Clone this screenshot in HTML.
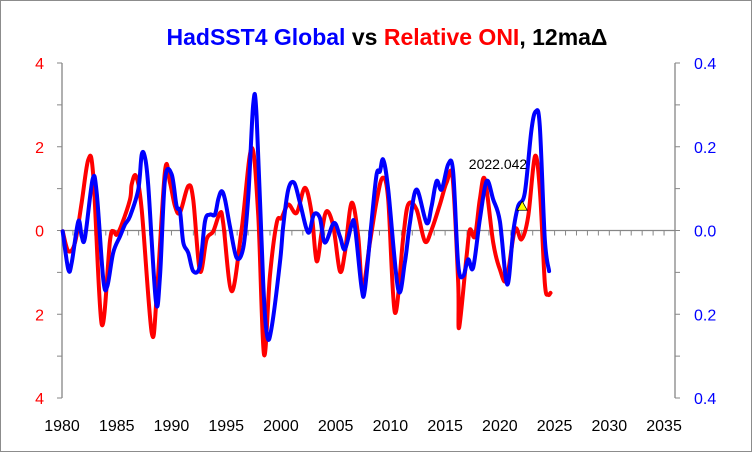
<!DOCTYPE html>
<html><head><meta charset="utf-8"><style>
body{margin:0;background:#fff}
svg{display:block;font-family:"Liberation Sans",sans-serif}
</style></head><body>
<svg id="chart" width="752" height="452">
<rect x="0.5" y="0.5" width="751" height="451" fill="#fff" stroke="#8c8c8c"/>
<text x="387" y="45" text-anchor="middle" font-size="23" font-weight="bold"><tspan fill="#0000ff">HadSST4 Global</tspan><tspan fill="#000"> vs </tspan><tspan fill="#ff0000">Relative ONI</tspan><tspan fill="#000">, 12maΔ</tspan></text>
<g id="axes"></g>
<g id="series"></g>
</svg>
<script>
const xTickYears=[1980,1985,1990,1995,2000,2005,2010,2015,2020,2025,2030,2035];
const leftTicks=[4,2,0,-2,-4];
const rightTicks=[0.4,0.2,0.0,-0.2,-0.4];
const redYears=[1980.06,1980.58,1981.19,1981.8,1982.4,1982.86,1983.63,1984.38,1984.68,1985.0,1985.45,1986.21,1986.37,1986.76,1987.28,1988.19,1988.65,1989.41,1989.86,1990.32,1990.78,1991.53,1991.99,1992.6,1993.21,1993.82,1994.43,1994.73,1995.5,1996.41,1997.32,1997.93,1998.45,1998.99,1999.61,2000.06,2000.67,2001.43,2002.19,2002.8,2003.26,2003.72,2004.17,2004.78,2005.39,2005.84,2006.46,2007.06,2007.46,2008.13,2008.74,2009.29,2009.8,2010.41,2011.17,2011.63,2012.39,2013.15,2013.76,2014.52,2015.13,2015.68,2016.19,2016.28,2016.96,2017.26,2017.72,2018.17,2018.63,2019.39,2020.0,2020.61,2021.37,2021.98,2022.59,2023.2,2023.65,2024.11,2024.41,2024.63];
const redValues=[-0.02,-0.49,-0.29,0.67,1.69,1.3,-2.24,-0.26,-0.02,-0.1,0.14,0.74,1.1,1.3,0.5,-2.44,-1.57,1.42,1.15,0.58,0.43,1.06,0.74,-0.97,-0.21,-0.02,0.42,0.18,-1.45,0.02,1.97,0.34,-2.96,-1.09,0.18,0.3,0.62,0.42,1.02,0.42,-0.73,-0.05,0.46,0.1,-0.97,-0.53,0.66,-0.14,-1.37,-0.29,0.7,1.26,0.74,-1.96,-0.17,0.62,0.5,-0.26,0.02,0.62,1.14,1.26,-1.25,-2.32,-0.61,0.02,-0.14,0.74,1.22,-0.29,-0.93,-1.17,0.02,-0.21,0.34,1.77,0.98,-1.25,-1.53,-1.49];
const blueYears=[1980.06,1980.58,1980.89,1981.49,1981.8,1982.1,1982.8,1983.17,1983.77,1984.14,1984.68,1985.3,1985.75,1986.21,1986.97,1987.28,1987.58,1987.88,1988.58,1988.95,1989.41,1990.02,1990.47,1990.78,1991.08,1991.53,1991.99,1992.6,1993.06,1993.52,1993.97,1994.27,1994.58,1994.89,1995.34,1995.95,1996.56,1997.01,1997.47,1997.78,1998.38,1998.75,1999.15,1999.91,2000.21,2000.67,2001.21,2001.74,2002.49,2003.01,2003.56,2004.02,2004.84,2005.39,2005.84,2006.46,2006.76,2007.37,2007.67,2008.28,2008.74,2009.04,2009.34,2009.8,2010.71,2011.32,2011.78,2012.39,2013.31,2013.76,2014.22,2014.68,2015.28,2015.73,2016.19,2016.65,2017.1,2017.56,2018.17,2018.79,2019.39,2020.0,2020.67,2021.21,2021.67,2022.28,2022.89,2023.29,2023.65,2024.11,2024.5];
const blueValues=[-0.002,-0.093,-0.077,0.022,-0.014,-0.017,0.122,0.09,-0.117,-0.133,-0.053,-0.014,0.014,0.034,0.098,0.181,0.174,0.106,-0.169,-0.109,0.122,0.134,0.058,0.046,-0.029,-0.053,-0.097,-0.085,0.022,0.038,0.038,0.074,0.094,0.074,0.01,-0.065,-0.041,0.078,0.301,0.273,-0.125,-0.252,-0.232,-0.077,0.01,0.098,0.114,0.066,-0.005,0.038,0.03,-0.029,0.018,-0.014,-0.045,0.014,0.01,-0.137,-0.141,0.022,0.134,0.141,0.169,0.098,-0.141,-0.077,0.018,0.098,0.018,0.058,0.118,0.098,0.158,0.141,-0.081,-0.109,-0.069,-0.089,0.026,0.118,0.074,0.022,-0.129,-0.005,0.058,0.09,0.241,0.285,0.249,-0.021,-0.097];
const markerYear=[2022.042];
const markerValue=[0.058];

const NS="http://www.w3.org/2000/svg";
const X0=62,X1=675,Y0=63,Y1=398;
const xs=y=>X0+(y-1980)*(X1-X0)/56;
const yl=v=>Y0+(4-v)*(Y1-Y0)/8;
const yr=v=>Y0+(0.4-v)*(Y1-Y0)/0.8;
function mk(tag,attrs,parent){const e=document.createElementNS(NS,tag);for(const k in attrs)e.setAttribute(k,attrs[k]);parent.appendChild(e);return e;}
const ax=document.getElementById('axes'),se=document.getElementById('series');
const G="#868686";
let l=mk('line',{x1:X0,y1:Y0,x2:X0,y2:Y1,stroke:G,'stroke-width':1.3},ax);


l=mk('line',{x1:X1,y1:Y0,x2:X1,y2:Y1,stroke:G,'stroke-width':1.3},ax);


l=mk('line',{x1:X0,y1:yl(0),x2:X1,y2:yl(0),stroke:G,'stroke-width':1.3},ax);


for(let yv=1980;yv<=2036;yv++){
  const t=mk('line',{x1:xs(yv),y1:yl(0),x2:xs(yv),y2:yl(0)+5,stroke:G,'stroke-width':1},ax);
  
  
}
for(let v=-4;v<=4;v++){
  const t=mk('line',{x1:X0-5,y1:yl(v),x2:X0,y2:yl(v),stroke:G,'stroke-width':1},ax);
  
  
  const t2=mk('line',{x1:X1,y1:yl(v),x2:X1+5,y2:yl(v),stroke:G,'stroke-width':1},ax);
  
  
}
xTickYears.forEach(yv=>{
  const t=mk('text',{x:xs(yv),y:431,'text-anchor':'middle','font-size':16,fill:'#000'},ax);
  t.textContent=yv;
  
  
});
leftTicks.forEach(v=>{
  const t=mk('text',{x:44,y:yl(v)+6,'text-anchor':'end','font-size':16,fill:'#ff0000'},ax);
  t.textContent=Math.abs(v);
  
  
});
rightTicks.forEach(v=>{
  const t=mk('text',{x:694,y:yr(v)+6,'text-anchor':'start','font-size':16,fill:'#0000ff'},ax);
  t.textContent=Math.abs(v).toFixed(1);
  
  
});
function path(xsA,ysA,fy){
  const P=xsA.map((x,i)=>[xs(x),fy(ysA[i])]);
  let d='M'+P[0][0].toFixed(1)+','+P[0][1].toFixed(1);
  for(let i=0;i<P.length-1;i++){
    const p0=P[Math.max(0,i-1)],p1=P[i],p2=P[i+1],p3=P[Math.min(P.length-1,i+2)];
    const c1=[p1[0]+(p2[0]-p0[0])/6,p1[1]+(p2[1]-p0[1])/6];
    const c2=[p2[0]-(p3[0]-p1[0])/6,p2[1]-(p3[1]-p1[1])/6];
    d+='C'+c1.map(v=>v.toFixed(1)).join(',')+' '+c2.map(v=>v.toFixed(1)).join(',')+' '+p2.map(v=>v.toFixed(1)).join(',');
  }
  return d;
}
let p=mk('path',{d:path(redYears,redValues,yl),fill:'none',stroke:'#ff0000','stroke-width':4,'stroke-linejoin':'round','stroke-linecap':'round'},se);


p=mk('path',{d:path(blueYears,blueValues,yr),fill:'none',stroke:'#0000ff','stroke-width':4,'stroke-linejoin':'round','stroke-linecap':'round'},se);


const mx=xs(markerYear[0]),my=yr(markerValue[0]);
p=mk('path',{d:`M${mx},${my-5}L${mx+5},${my+4}L${mx-5},${my+4}Z`,fill:'#ffff00',stroke:'#000','stroke-width':0.8},se);


const lt=mk('text',{x:mx+5,y:my-37,'text-anchor':'end','font-size':14,fill:'#000'},se);
lt.textContent=markerYear[0].toFixed(3);


</script>
</body></html>
